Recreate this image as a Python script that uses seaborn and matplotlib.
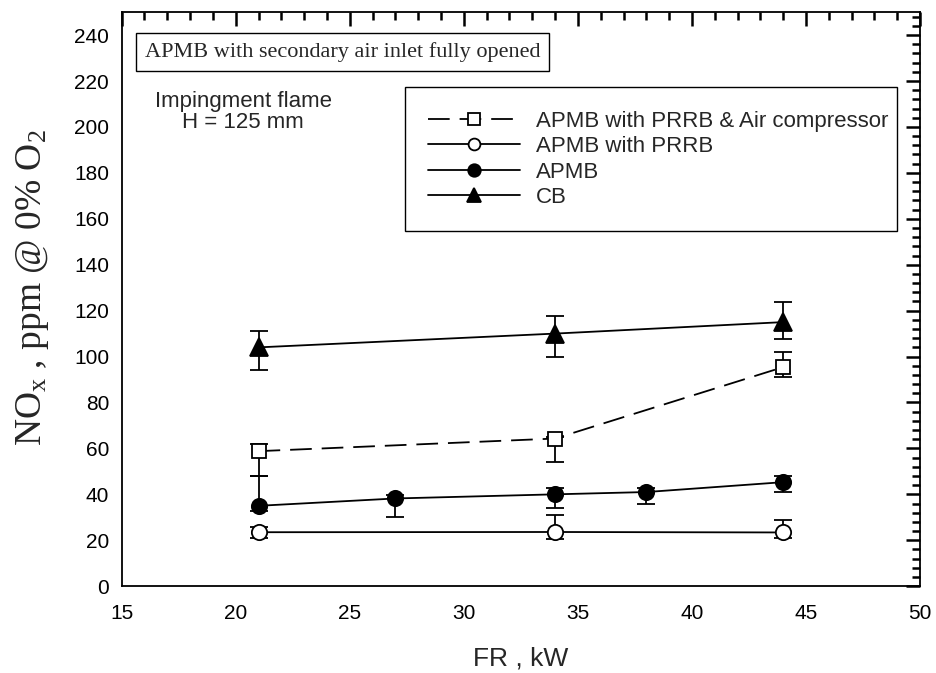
import numpy as np
import pandas as pd
import matplotlib
matplotlib.use("Agg")
import matplotlib.pyplot as plt
from matplotlib.lines import Line2D
import seaborn as sns

# Firing rate (kW) and NOx (ppm @ 0% O2) for each burner configuration
fr_compressor = [21, 34, 44]
nox_compressor = [58.8, 64.3, 95.4]
err_lo_compressor = [48.0, 54.0, 91.0]
err_hi_compressor = [62.0, 65.0, 101.8]

fr_prrb = [21, 34, 44]
nox_prrb = [23.5, 23.6, 23.4]
err_lo_prrb = [20.9, 20.7, 20.9]
err_hi_prrb = [25.8, 30.9, 28.7]

fr_apmb = [21, 27, 34, 38, 44]
nox_apmb = [35.0, 38.2, 40.0, 41.0, 45.3]
err_lo_apmb = [32.7, 30.0, 34.0, 35.6, 40.9]
err_hi_apmb = [48.0, 39.6, 42.6, 42.7, 47.8]

fr_cb = [21, 34, 44]
nox_cb = [104.0, 110.0, 115.0]
err_lo_cb = [94.0, 99.7, 107.7]
err_hi_cb = [111.0, 117.8, 123.6]

labels = ["APMB with PRRB & Air compressor", "APMB with PRRB", "APMB", "CB"]

sns.set_style("white")
plt.rcParams["font.family"] = ["Liberation Sans", "DejaVu Sans"]
plt.rcParams["mathtext.fontset"] = "custom"
plt.rcParams["mathtext.rm"] = "Liberation Serif"
plt.rcParams["mathtext.it"] = "Liberation Serif:italic"

fig = plt.figure(figsize=(9.36, 6.73), dpi=100)
ax = fig.add_axes([0.130, 0.129, 0.853, 0.853])

series = [
    (fr_compressor, nox_compressor, err_lo_compressor, err_hi_compressor,
     dict(marker="s", mfc="white", ms=10, lms=8.5, ls=(0, (12, 5.5)))),
    (fr_prrb, nox_prrb, err_lo_prrb, err_hi_prrb,
     dict(marker="o", mfc="white", ms=11, lms=8.5, ls="-")),
    (fr_apmb, nox_apmb, err_lo_apmb, err_hi_apmb,
     dict(marker="o", mfc="black", ms=11, lms=9, ls="-")),
    (fr_cb, nox_cb, err_lo_cb, err_hi_cb,
     dict(marker="^", mfc="black", ms=13, lms=10.5, ls="-")),
]

handles = []
for (x, y, lo, hi, st), lab in zip(series, labels):
    df = pd.DataFrame({"FR": x, "NOx": y})
    y_arr = np.asarray(y)
    yerr = np.vstack([y_arr - np.asarray(lo), np.asarray(hi) - y_arr])
    ax.errorbar(x, y, yerr=yerr, fmt="none", ecolor="black", elinewidth=1.3,
                capsize=6.5, capthick=1.3, zorder=2)
    sns.lineplot(data=df, x="FR", y="NOx", ax=ax, color="black", lw=1.3,
                 linestyle=st["ls"], marker=st["marker"], markersize=st["ms"],
                 markerfacecolor=st["mfc"], markeredgecolor="black",
                 markeredgewidth=1.3, zorder=3, legend=False)
    handles.append(Line2D([], [], color="black", lw=1.3, linestyle=st["ls"],
                          marker=st["marker"], markersize=st["lms"],
                          markerfacecolor=st["mfc"], markeredgecolor="black",
                          markeredgewidth=1.3, label=lab))

ax.set_xlim(15, 50)
ax.set_ylim(0, 250)
ax.set_xticks(np.arange(15, 51, 5))
ax.set_yticks(np.arange(0, 241, 20))
ax.set_xticks(np.arange(15, 51, 1), minor=True)
ax.set_yticks(np.arange(0, 251, 4), minor=True)
ax.tick_params(which="both", direction="in", top=True, right=True,
               labelsize=15, color="black", labelcolor="black")
ax.tick_params(axis="x", which="major", pad=13)
ax.tick_params(axis="y", which="major", pad=9)
ax.tick_params(which="major", length=10, width=1.8)
ax.tick_params(which="minor", length=5.5, width=1.8)
for sp in ax.spines.values():
    sp.set_color("black")
    sp.set_linewidth(1.3)

ax.set_xlabel("FR , kW", fontsize=19, labelpad=17)
ax.set_ylabel(r"$\mathrm{NO_x}$ , ppm @ 0% $\mathrm{O_2}$", fontsize=27,
              family="Liberation Serif")
ax.yaxis.set_label_coords(-0.088, 0.521)

ax.text(0.029, 0.931, "APMB with secondary air inlet fully opened",
        transform=ax.transAxes, family="Liberation Serif", fontsize=16,
        va="center", ha="left",
        bbox=dict(boxstyle="square,pad=0.4", fc="white", ec="black", lw=1))
ax.text(0.152, 0.826, "Impingment flame\nH = 125 mm", transform=ax.transAxes,
        fontsize=16, ha="center", va="center", linespacing=1.0)

leg = ax.legend(handles=handles, loc="upper left",
                bbox_to_anchor=(0.355, 0.624, 0.616, 0.245), mode="expand",
                borderaxespad=0, fontsize=16, handlelength=4.1,
                handletextpad=0.75, labelspacing=0.2, borderpad=1.05,
                frameon=True, fancybox=False, framealpha=1, edgecolor="black")
leg.get_frame().set_linewidth(1.0)

fig.savefig("out.png", dpi=100)
